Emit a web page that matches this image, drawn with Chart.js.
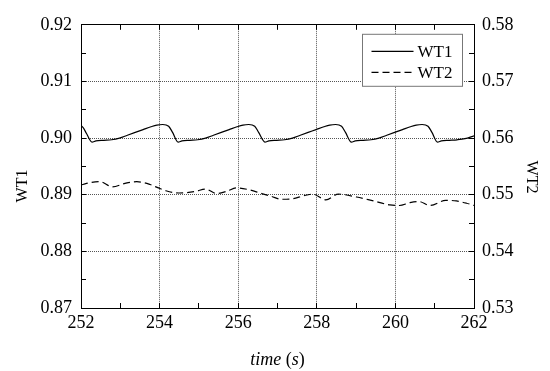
<!DOCTYPE html>
<html><head><meta charset="utf-8">
<script src="https://cdn.jsdelivr.net/npm/chart.js@4.4.0/dist/chart.umd.min.js"></script>
<style>html,body{margin:0;padding:0;background:#fff;}canvas{display:block;}</style>
</head><body>
<canvas id="c" width="550" height="371"></canvas>
<script>
// ---- data ----
const wt1Time = [252.0,252.06,252.14,252.28,
  252.38,252.58,252.78,252.98,253.18,253.38,253.58,253.78,253.93,254.08,254.23,254.33,254.47,
  254.57,254.77,254.97,255.17,255.37,255.57,255.77,255.97,256.12,256.27,256.42,256.52,256.68,
  256.78,256.98,257.18,257.38,257.58,257.78,257.98,258.18,258.33,258.48,258.63,258.73,258.88,
  258.98,259.18,259.38,259.58,259.78,259.98,260.18,260.38,260.53,260.68,260.83,260.93,261.07,
  261.17,261.37,261.57,261.77,262.0];
const wt1Values = [0.9022,0.9018,0.9008,0.8993,
  0.8995,0.8996,0.8997,0.9000,0.9005,0.9010,0.9015,0.9020,0.9023,0.9024,0.9021,0.9010,0.8993,
  0.8995,0.8996,0.8997,0.9000,0.9005,0.9010,0.9015,0.9020,0.9023,0.9024,0.9021,0.9010,0.8993,
  0.8995,0.8996,0.8997,0.9000,0.9005,0.9010,0.9015,0.9020,0.9023,0.9024,0.9021,0.9010,0.8993,
  0.8995,0.8996,0.8997,0.9000,0.9005,0.9010,0.9015,0.9020,0.9023,0.9024,0.9021,0.9010,0.8993,
  0.8995,0.8996,0.8997,0.8999,0.9004];
const wt2Time = [252.0,252.14,252.48,252.8,253.12,253.42,253.76,253.97,254.16,254.49,254.92,255.17,
  255.45,255.71,255.96,256.26,256.6,256.85,257.1,257.4,257.65,257.9,258.23,258.55,259.01,259.44,
  259.86,260.1,260.37,260.6,260.88,261.28,261.55,261.81,262.0];
const wt2Values = [0.5517,0.5520,0.5523,0.5514,0.5520,0.5523,0.5518,0.5512,0.5507,0.5503,0.5506,0.5510,
  0.5502,0.5506,0.5512,0.5509,0.5502,0.5497,0.5492,0.5493,0.5498,0.5501,0.5491,0.5501,0.5496,0.5489,
  0.5482,0.5481,0.5486,0.5488,0.5481,0.5490,0.5489,0.5485,0.5481];
const seriesNames = ['WT1','WT2'];
const xTickLabels = ['252','254','256','258','260','262'];
const leftTickLabels = ['0.87','0.88','0.89','0.90','0.91','0.92'];
const rightTickLabels = ['0.53','0.54','0.55','0.56','0.57','0.58'];
const axisTitles = ['time', 'WT1', 'WT2'];

const FONT = "'Liberation Serif','Times New Roman',serif";
function labelFor(list, v){
  for (const s of list){ if (Math.abs(parseFloat(s) - v) < 1e-6) return s; }
  return '';
}
const gridColor = (list) => (ctx) => labelFor(list, ctx.tick.value) !== '' ? '#555' : 'rgba(0,0,0,0)';

const titlePlugin = {
  id: 'titles',
  afterDraw(chart){
    const ctx = chart.ctx, a = chart.chartArea;
    ctx.save();
    ctx.fillStyle = '#000';
    ctx.textBaseline = 'middle';
    const cx = (a.left + a.right)/2, cy = 360;
    const parts = [[axisTitles[0], 'italic'], [' (', 'normal'], ['s', 'italic'], [')', 'normal']];
    let total = 0;
    parts.forEach(p => { ctx.font = p[1] + ' 18px ' + FONT; total += ctx.measureText(p[0]).width; });
    let x = cx - total/2;
    ctx.textAlign = 'left';
    parts.forEach(p => { ctx.font = p[1] + ' 18px ' + FONT; ctx.fillText(p[0], x, cy); x += ctx.measureText(p[0]).width; });
    ctx.font = '16px ' + FONT;
    ctx.textAlign = 'center';
    ctx.save(); ctx.translate(23, 186); ctx.rotate(-Math.PI/2); ctx.fillText(axisTitles[1], 0, 0); ctx.restore();
    ctx.save(); ctx.translate(531, 177); ctx.rotate(Math.PI/2); ctx.fillText(axisTitles[2], 0, 0); ctx.restore();
    ctx.restore();
  }
};

const legendPlugin = {
  id: 'boxLegend',
  afterDatasetsDraw(chart){
    const ctx = chart.ctx, a = chart.chartArea;
    const bx = a.right - 111.5, by = a.top + 9.5, bw = 100, bh = 52;
    ctx.save();
    ctx.fillStyle = '#fff';
    ctx.fillRect(bx, by, bw, bh);
    ctx.strokeStyle = '#777';
    ctx.lineWidth = 1;
    ctx.setLineDash([]);
    ctx.strokeRect(bx, by, bw, bh);
    chart.data.datasets.forEach((ds, i) => {
      const y = by + 17 + i*21;
      ctx.strokeStyle = '#000';
      ctx.lineWidth = 1.2;
      ctx.setLineDash(ds.borderDash || []);
      ctx.beginPath(); ctx.moveTo(bx + 9, y); ctx.lineTo(bx + 51, y); ctx.stroke();
      ctx.setLineDash([]);
      ctx.fillStyle = '#000';
      ctx.font = '17px ' + FONT;
      ctx.textAlign = 'left'; ctx.textBaseline = 'middle';
      ctx.fillText(ds.label, bx + 55, y + 1);
    });
    ctx.restore();
  }
};

new Chart(document.getElementById('c'), {
  type: 'line',
  data: {
    datasets: [
      { label: seriesNames[0], data: wt1Time.map((t, i) => ({x: t, y: wt1Values[i]})), yAxisID: 'y',
        borderColor: '#000', borderWidth: 1.2, pointRadius: 0, fill: false, cubicInterpolationMode: 'monotone' },
      { label: seriesNames[1], data: wt2Time.map((t, i) => ({x: t, y: wt2Values[i]})), yAxisID: 'y2',
        borderColor: '#000', borderWidth: 1.2, borderDash: [7, 4], pointRadius: 0, fill: false, cubicInterpolationMode: 'monotone' }
    ]
  },
  options: {
    responsive: false, animation: false, devicePixelRatio: 1,
    layout: { padding: { top: 15, left: 0, right: 0, bottom: 0 } },
    plugins: { legend: { display: false }, tooltip: { enabled: false } },
    scales: {
      x: {
        type: 'linear', position: 'bottom', min: 252, max: 262,
        afterFit: s => { s.height = 63; },
        ticks: { stepSize: 1, autoSkip: false, maxRotation: 0, padding: 9, color: '#000',
                 font: { family: FONT, size: 18 }, callback: v => labelFor(xTickLabels, v) },
        grid: { color: gridColor(xTickLabels), lineWidth: 1, tickLength: -5, tickColor: '#000' },
        border: { display: true, color: '#000', width: 1, dash: [1, 1] }
      },
      x2: {
        type: 'linear', position: 'top', min: 252, max: 262,
        afterFit: s => { s.height = 0; },
        ticks: { stepSize: 1, display: false },
        grid: { drawOnChartArea: false, tickLength: -5, tickColor: '#000' },
        border: { display: true, color: '#000', width: 1 }
      },
      y: {
        type: 'linear', position: 'left', min: 0.87, max: 0.92,
        afterFit: s => { s.width = 81; },
        ticks: { stepSize: 0.005, autoSkip: false, padding: 14, color: '#000',
                 font: { family: FONT, size: 18 }, callback: v => labelFor(leftTickLabels, v) },
        grid: { color: gridColor(leftTickLabels), lineWidth: 1, tickLength: -5, tickColor: '#000' },
        border: { display: true, color: '#000', width: 1, dash: [1, 1] }
      },
      y2: {
        type: 'linear', position: 'right', min: 0.53, max: 0.58,
        afterFit: s => { s.width = 76; },
        ticks: { stepSize: 0.005, autoSkip: false, padding: 13, color: '#000',
                 font: { family: FONT, size: 18 }, callback: v => labelFor(rightTickLabels, v) },
        grid: { drawOnChartArea: false, tickLength: -5, tickColor: '#000' },
        border: { display: true, color: '#000', width: 1 }
      }
    }
  },
  plugins: [legendPlugin, titlePlugin]
});
</script>
</body></html>
